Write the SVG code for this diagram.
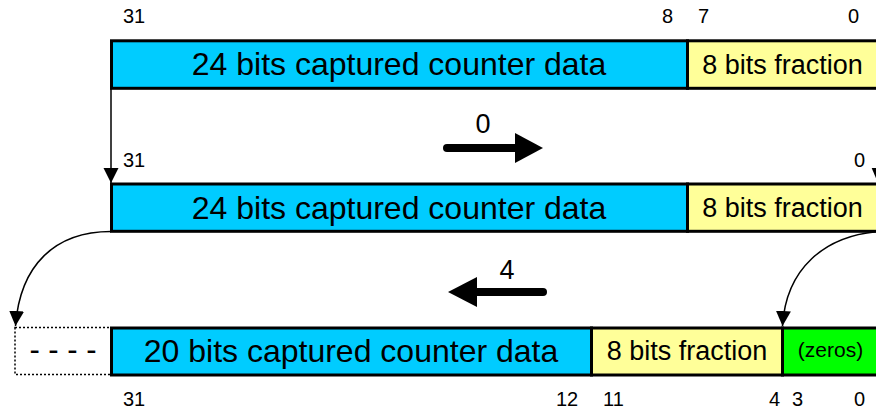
<svg xmlns="http://www.w3.org/2000/svg" width="876" height="410" viewBox="0 0 876 410">
<style>
.box{stroke:#000;stroke-width:3}
.blue{fill:#00CCFF}
.yel{fill:#FFFF99}
.grn{fill:#00FF00}
.t{font-family:"Liberation Sans",Arial,sans-serif;fill:#000}
.big{font-size:32px;text-anchor:middle}
.frac{font-size:27px;text-anchor:middle}
.bit{font-size:20px}
.conn{fill:none;stroke:#000;stroke-width:1.5}
</style>
<defs>
<marker id="ah" markerUnits="userSpaceOnUse" markerWidth="16" markerHeight="16" viewBox="0 0 16 16" refX="15" refY="8" orient="auto">
<path d="M0,0.5 L15,8 L0,15.5 z" fill="#000"/>
</marker>
</defs>
<rect width="876" height="410" fill="#fff"/>

<g id="row1">
<rect class="box blue" x="111.5" y="40.8" width="576" height="47.5"/>
<rect class="box yel" x="687.5" y="40.8" width="191" height="47.5"/>
<text class="t big" x="399" y="75">24 bits captured counter data</text>
<text class="t frac" x="782.5" y="73.5">8 bits fraction</text>
<text class="t bit" x="123" y="23">31</text>
<text class="t bit" x="662" y="23">8</text>
<text class="t bit" x="698" y="23">7</text>
<text class="t bit" x="848" y="23">0</text>
</g>

<g id="row2">
<rect class="box blue" x="111.5" y="184" width="576" height="47.3"/>
<rect class="box yel" x="687.5" y="184" width="191" height="47.3"/>
<text class="t big" x="399" y="218.5">24 bits captured counter data</text>
<text class="t frac" x="782.5" y="216.5">8 bits fraction</text>
<text class="t bit" x="123" y="167">31</text>
<text class="t bit" x="854" y="167">0</text>
</g>

<g id="row3">
<rect x="15" y="327.5" width="96" height="47" fill="#fff" stroke="#000" stroke-width="1.5" stroke-dasharray="2,2"/>
<text class="t" x="63" y="360" font-size="31" text-anchor="middle">- - - -</text>
<rect class="box blue" x="111.5" y="328" width="480" height="47"/>
<rect class="box yel" x="591.5" y="328" width="191" height="47"/>
<rect class="box grn" x="782.5" y="328" width="96" height="47"/>
<text class="t big" x="351" y="361.5">20 bits captured counter data</text>
<text class="t frac" x="687" y="360">8 bits fraction</text>
<text class="t" x="830.5" y="357" font-size="21" text-anchor="middle">(zeros)</text>
<text class="t bit" x="123" y="406">31</text>
<text class="t bit" x="556" y="406">12</text>
<text class="t bit" x="603" y="406">11</text>
<text class="t bit" x="769" y="406">4</text>
<text class="t bit" x="792" y="406">3</text>
<text class="t bit" x="854" y="406">0</text>
</g>

<g id="shift0">
<text class="t" x="483" y="133" font-size="27" text-anchor="middle">0</text>
<line x1="447" y1="148" x2="518" y2="148" stroke="#000" stroke-width="8" stroke-linecap="round"/>
<polygon points="515,133 543,148 515,163" fill="#000"/>
</g>

<g id="shift4">
<text class="t" x="507" y="279" font-size="27" text-anchor="middle">4</text>
<line x1="543" y1="292" x2="474" y2="292" stroke="#000" stroke-width="8" stroke-linecap="round"/>
<polygon points="477,277 448,292 477,307" fill="#000"/>
</g>

<g id="connectors">
<line class="conn" x1="111" y1="88" x2="111" y2="183" marker-end="url(#ah)"/>
<path class="conn" d="M884,90 L878,183" marker-end="url(#ah)"/>
<path class="conn" d="M111,231.5 C55,231.5 20,265 15.5,326" marker-end="url(#ah)"/>
<path class="conn" d="M878,231.5 C825,236 786,268 782.5,326" marker-end="url(#ah)"/>
</g>
</svg>
